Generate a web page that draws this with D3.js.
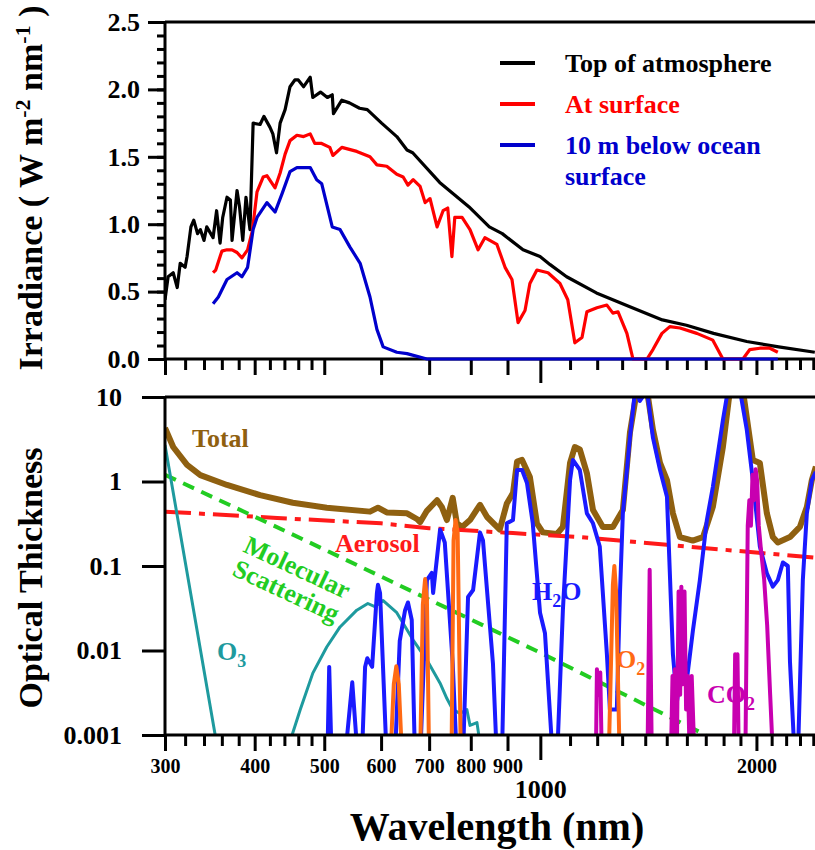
<!DOCTYPE html>
<html>
<head>
<meta charset="utf-8">
<script src="https://cdn.jsdelivr.net/npm/d3@7"></script>
<style>
  body { margin: 0; background: #fff; }
  svg text { font-family: "Liberation Serif", "Times New Roman", serif; font-weight: bold; }
</style>
</head>
<body>
<svg id="chart"></svg>
<script>
// ---- irradiance panel, [wavelength nm, W m-2 nm-1]
const topOfAtmosphere = [
  [300,0.44],[303,0.61],[308,0.64],[312,0.53],[315,0.71],[320,0.68],[322,0.76],[326,0.98],
  [329,1.03],[333,0.93],[336,0.96],[340,0.88],[343,0.98],[350,0.9],[354,1.1],[358,0.86],
  [361,1.05],[366,1.2],[370,1.18],[372,0.88],[378,1.25],[381,1.13],[385,0.88],[389,1.2],
  [394,0.96],[398,1.75],[407,1.74],[412,1.8],[420,1.72],[424,1.67],[429,1.53],[434,1.75],
  [441,1.85],[448,2.02],[455,2.07],[460,2.07],[468,2.02],[478,2.09],[482,1.94],[494,1.98],
  [505,1.94],[513,1.96],[515,1.82],[529,1.92],[542,1.9],[560,1.86],[574,1.85],[601,1.75],
  [631,1.65],[652,1.55],[664,1.53],[724,1.31],[795,1.13],[849,0.98],[885,0.93],[946,0.81],
  [999,0.76],[1032,0.7],[1088,0.61],[1197,0.49],[1330,0.39],[1479,0.29],[1598,0.25],
  [1743,0.19],[1939,0.13],[2148,0.09],[2412,0.05]
];
const atSurface = [
  [350,0.64],[353,0.66],[360,0.8],[366,0.81],[372,0.81],[378,0.79],[384,0.75],[391,0.81],
  [397,0.95],[403,1.24],[411,1.35],[416,1.36],[422,1.31],[427,1.27],[434,1.38],[441,1.52],
  [448,1.62],[458,1.66],[468,1.65],[478,1.67],[485,1.6],[495,1.6],[509,1.57],[514,1.51],
  [529,1.57],[555,1.54],[579,1.5],[592,1.44],[611,1.43],[631,1.37],[644,1.35],[654,1.29],
  [665,1.33],[680,1.28],[691,1.16],[702,1.19],[718,0.98],[732,1.1],[743,1.12],[753,0.76],
  [760,1.05],[778,1.05],[798,0.96],[819,0.81],[837,0.9],[870,0.85],[893,0.68],[913,0.59],
  [931,0.27],[952,0.36],[967,0.56],[989,0.66],[1025,0.64],[1065,0.56],[1092,0.44],
  [1117,0.12],[1143,0.16],[1161,0.35],[1199,0.38],[1238,0.4],[1262,0.34],[1283,0.35],
  [1320,0.19],[1346,0.0],[1408,0.0],[1435,0.07],[1477,0.19],[1515,0.24],[1565,0.23],
  [1652,0.19],[1739,0.14],[1796,0.0],[1915,0.0],[1958,0.07],[2022,0.08],[2088,0.08],[2142,0.05]
];
const belowOcean = [
  [350,0.41],[356,0.46],[366,0.59],[378,0.64],[384,0.61],[391,0.68],[398,0.96],[403,1.05],
  [416,1.16],[427,1.09],[437,1.23],[448,1.39],[458,1.42],[478,1.42],[488,1.33],[496,1.3],
  [513,0.98],[526,0.96],[543,0.83],[561,0.71],[579,0.46],[592,0.22],[604,0.09],[631,0.05],
  [652,0.04],[695,0.0],[2142,0.0]
];

// ---- optical thickness panel, [wavelength nm, tau]; 0.0005 = below the 0.001 floor
const total = [
  [300,4.3],[308,2.56],[322,1.57],[336,1.19],[366,0.91],[407,0.69],[452,0.56],[504,0.49],
  [579,0.44],[594,0.49],[611,0.43],[652,0.42],[673,0.36],[680,0.33],[695,0.45],[718,0.6],
  [729,0.5],[741,0.35],[755,0.64],[765,0.32],[778,0.29],[798,0.35],[824,0.53],[843,0.38],
  [878,0.27],[898,0.55],[916,0.73],[928,1.72],[943,1.8],[967,1.13],[989,0.32],[1008,0.25],
  [1055,0.24],[1075,0.29],[1100,1.66],[1117,2.56],[1135,2.4],[1161,1.26],[1184,0.46],
  [1222,0.29],[1262,0.29],[1303,0.46],[1333,3.8],[1363,12],[1408,12],[1435,4.1],[1468,1.66],
  [1501,1.04],[1530,0.42],[1565,0.22],[1631,0.2],[1685,0.22],[1739,0.5],[1796,2.56],
  [1837,12],[1915,12],[1977,1.8],[2022,1.66],[2068,0.42],[2108,0.22],[2142,0.19],[2227,0.22],
  [2299,0.29],[2351,0.5],[2389,1.04],[2420,1.5]
];
const water = [
  [505,0.0005],[508,0.0064],[512,0.0005],[534,0.0005],[547,0.0042],[557,0.0005],[564,0.0005],
  [570,0.0064],[574,0.0081],[583,0.0064],[592,0.048],[594,0.06],[598,0.048],[611,0.0005],
  [627,0.0005],[637,0.013],[648,0.03],[654,0.037],[662,0.023],[669,0.0005],[680,0.0005],
  [695,0.068],[706,0.083],[709,0.048],[725,0.27],[736,0.19],[755,0.007],[765,0.0005],
  [780,0.0005],[793,0.043],[806,0.052],[824,0.25],[832,0.2],[859,0.007],[870,0.0005],
  [884,0.0005],[898,0.32],[916,0.35],[928,1.37],[943,1.37],[958,0.96],[976,0.32],[999,0.028],
  [1015,0.016],[1041,0.0005],[1055,0.0005],[1075,0.03],[1100,1.04],[1110,1.8],[1135,1.37],
  [1161,0.42],[1184,0.32],[1210,0.17],[1238,0.009],[1250,0.002],[1278,0.002],[1291,0.048],
  [1303,0.42],[1333,3.3],[1355,12],[1376,9],[1408,12],[1435,3.3],[1468,1.37],[1501,0.66],
  [1530,0.009],[1550,0.0025],[1565,0.0045],[1600,0.0045],[1631,0.017],[1668,0.068],
  [1706,0.35],[1739,0.86],[1796,5.3],[1825,12],[1897,12],[1939,4.1],[1977,1.04],[2022,0.17],
  [2068,0.082],[2108,0.057],[2142,0.068],[2177,0.11],[2212,0.1],[2227,0.0075],[2262,0.0005],
  [2284,0.0005],[2321,0.068],[2351,0.42],[2389,1.04],[2420,1.3]
];
const oxygen = [
  [618,0.0005],[625,0.004],[630,0.0065],[635,0.004],[642,0.0005],
  [680,0.0005],[686,0.035],[691,0.07],[695,0.04],[700,0.0005],
  [752,0.0005],[757,0.2],[762,0.35],[767,0.25],[775,0.0005],
  [1245,0.0005],[1262,0.06],[1268,0.1],[1275,0.05],[1290,0.0005]
];
const carbonDioxide = [
  [1195,0.0005],[1199,0.006],[1205,0.003],[1212,0.0055],[1218,0.0005],
  [1410,0.0005],[1420,0.09],[1430,0.0005],
  [1520,0.0005],[1528,0.005],[1535,0.0005],[1540,0.006],[1550,0.0008],[1558,0.05],
  [1566,0.003],[1572,0.057],[1580,0.004],[1588,0.05],[1596,0.002],[1605,0.005],
  [1615,0.0005],[1625,0.005],[1640,0.0005],
  [1860,0.0005],[1868,0.009],[1875,0.002],[1882,0.009],[1890,0.0005],
  [1930,0.0005],[1945,0.3],[1955,0.6],[1965,0.3],[1975,1.2],[1985,0.6],[1995,1.4],
  [2005,1.0],[2015,0.3],[2030,0.15],[2050,0.07],[2070,0.02],[2090,0.003],[2110,0.0005]
];
const ozone = [
  [300,2.7],[354,0.0008],[440,0.0005],[451,0.001],[463,0.002],[482,0.0054],[504,0.011],
  [526,0.019],[555,0.03],[575,0.036],[588,0.033],[604,0.039],[631,0.028],[665,0.0133],
  [695,0.0077],[725,0.0041],[741,0.0027],[755,0.002],[773,0.0018],[790,0.002],[798,0.0013],
  [816,0.0014],[824,0.0008]
];
const aerosol = [[300,0.44],[430,0.37],[600,0.32],[700,0.28],[916,0.245],[1135,0.22],[2420,0.125]];
const molecular = [[300,1.2],[450,0.24],[600,0.075],[1000,0.0094],[1700,0.001]];

// ---- ticks and labels
const xMinorTicks = [320,340,360,380,420,440,460,480,1100,1200,1300,1400,1500,1600,1700,1800,1900,2100,2200,2300,2400];
const xMajorTicks = [300,400,500,600,700,800,900,2000];
const xLongTicks = [1000];
const yTopMajor = [0,0.5,1,1.5,2,2.5];
const yBotTicks = [0.001,0.01,0.1,1,10];
const yBotLabels = ['0.001','0.01','0.1','1','10'];

const W = 815, H = 850;
const svg = d3.select('#chart').attr('width', W).attr('height', H);

const x = d3.scaleLog().domain([300, 2500]).range([165, 826]);
const yTop = d3.scaleLinear().domain([0, 2.5]).range([359, 22]);
const yBot = d3.scaleLog().domain([0.001, 10]).range([735, 397]);

const defs = svg.append('defs');
defs.append('clipPath').attr('id', 'clipTop')
  .append('rect').attr('x', 165).attr('y', 22).attr('width', 650).attr('height', 341);
defs.append('clipPath').attr('id', 'clipBot')
  .append('rect').attr('x', 165).attr('y', 397).attr('width', 650).attr('height', 338);

// little helper for one set of ticks
function tickSet(axis, y, vals, size, fmt, fs, pad) {
  const g = svg.append('g')
    .attr('transform', `translate(0,${y})`)
    .call(axis.tickValues(vals).tickSize(size).tickPadding(pad || 3).tickFormat(fmt || ''));
  g.select('.domain').remove();
  g.selectAll('.tick line').attr('stroke', '#000').attr('stroke-width', 3);
  g.selectAll('text').attr('font-size', fs || 20).attr('font-family', null).attr('fill', '#000');
  return g;
}
function yTickSet(axis, vals, size, fmt, fs, pad) {
  const g = svg.append('g')
    .attr('transform', 'translate(165,0)')
    .call(axis.tickValues(vals).tickSize(size).tickPadding(pad || 3).tickFormat(fmt || ''));
  g.select('.domain').remove();
  g.selectAll('.tick line').attr('stroke', '#000').attr('stroke-width', 3);
  g.selectAll('text').attr('font-size', fs || 20).attr('font-family', null).attr('fill', '#000');
  return g;
}
function frame(x1, y1, x2, y2) {
  svg.append('line').attr('x1', x1).attr('y1', y1).attr('x2', x2).attr('y2', y2)
    .attr('stroke', '#000').attr('stroke-width', 3);
}

// ===== top panel =====
tickSet(d3.axisBottom(x), 359, xMinorTicks, 11);
tickSet(d3.axisBottom(x), 359, xMajorTicks, 16);
tickSet(d3.axisBottom(x), 359, xLongTicks, 24);
yTickSet(d3.axisLeft(yTop), d3.range(0, 2.51, 0.1), 8);
yTickSet(d3.axisLeft(yTop), yTopMajor, 17, d3.format('.1f'), 26, 8);
frame(165, 22, 815, 22);
frame(165, 22, 165, 359);
frame(165, 359, 815, 359);

const lineTop = d3.line().x(d => x(d[0])).y(d => yTop(d[1]));
const topG = svg.append('g').attr('clip-path', 'url(#clipTop)');
[[topOfAtmosphere, '#000000'], [atSurface, '#ff0000'], [belowOcean, '#0000cc']].forEach(([data, c]) => {
  topG.append('path').datum(data).attr('d', lineTop)
    .attr('fill', 'none').attr('stroke', c).attr('stroke-width', 3.2)
    .attr('stroke-linejoin', 'round');
});

// legend
const legend = [
  { label: 'Top of atmosphere', color: '#000000', y: 63 },
  { label: 'At surface', color: '#ff0000', y: 104 },
  { label: '10 m below ocean', color: '#0000cc', y: 145 }
];
legend.forEach(d => {
  svg.append('line').attr('x1', 500).attr('x2', 535).attr('y1', d.y).attr('y2', d.y)
    .attr('stroke', d.color).attr('stroke-width', 4);
  svg.append('text').attr('x', 565).attr('y', d.y + 9).attr('font-size', 26)
    .attr('fill', d.color).text(d.label);
});
svg.append('text').attr('x', 565).attr('y', 185).attr('font-size', 26)
  .attr('fill', '#0000cc').text('surface');

// y title
const t1 = svg.append('text').attr('transform', 'translate(42,188) rotate(-90)')
  .attr('text-anchor', 'middle').attr('font-size', 34);
t1.append('tspan').text('Irradiance ( W m');
t1.append('tspan').attr('dy', -12).attr('font-size', 22).text('-2');
t1.append('tspan').attr('dy', 12).text(' nm');
t1.append('tspan').attr('dy', -12).attr('font-size', 22).text('-1');
t1.append('tspan').attr('dy', 12).text(' )');

// ===== bottom panel =====
const lineBot = d3.line().x(d => x(d[0])).y(d => yBot(d[1]));
const botG = svg.append('g').attr('clip-path', 'url(#clipBot)');
const botSeries = [
  { data: aerosol, color: '#ff1a1a', w: 4, dash: '26,8,6,8' },
  { data: molecular, color: '#22cc22', w: 4, dash: '12,8' },
  { data: ozone, color: '#1e9a9e', w: 3 },
  { data: water, color: '#1a1aff', w: 4 },
  { data: oxygen, color: '#ff6a14', w: 4 },
  { data: carbonDioxide, color: '#c800b0', w: 4 },
  { data: total, color: '#8f6010', w: 6 }
];
botSeries.forEach(s => {
  botG.append('path').datum(s.data).attr('d', lineBot)
    .attr('fill', 'none').attr('stroke', s.color).attr('stroke-width', s.w)
    .attr('stroke-linejoin', 'round')
    .attr('stroke-dasharray', s.dash || null);
});
// keep the total line under water vapour like the figure
botG.selectAll('path').filter((d, i) => i === 6).lower();

tickSet(d3.axisBottom(x), 735, xMinorTicks, 11);
tickSet(d3.axisBottom(x), 735, xMajorTicks, 16, d3.format('d'), 20, 8);
tickSet(d3.axisBottom(x), 735, xLongTicks, 25, d3.format('d'), 26, 20);
yTickSet(d3.axisLeft(yBot), yBotTicks, 23, (d, i) => yBotLabels[i], 26, 20);
frame(165, 397, 815, 397);
frame(165, 397, 165, 735);
frame(165, 735, 815, 735);

// series labels
function label(txt, sub, px, py, color) {
  const t = svg.append('text').attr('x', px).attr('y', py).attr('font-size', 26).attr('fill', color);
  t.append('tspan').text(txt);
  if (sub) {
    t.append('tspan').attr('dy', 7).attr('font-size', 18).text(sub[0]);
    if (sub[1]) t.append('tspan').attr('dy', -7).text(sub[1]);
  }
}
label('Total', null, 192, 447, '#8f6010');
label('Aerosol', null, 335, 552, '#ff1a1a');
label('H', ['2', 'O'], 532, 600, '#1a1aff');
label('O', ['3'], 217, 660, '#1e9a9e');
label('O', ['2'], 616, 668, '#ff6a14');
label('CO', ['2'], 707, 703, '#c800b0');

const mol = svg.append('g').attr('transform', 'translate(297,568) rotate(25)');
mol.append('text').attr('text-anchor', 'middle').attr('y', 8).attr('font-size', 26)
  .attr('fill', '#22cc22').text('Molecular');
mol.append('text').attr('text-anchor', 'middle').attr('y', 34).attr('font-size', 26)
  .attr('fill', '#22cc22').text('Scattering');

svg.append('text').attr('transform', 'translate(42,578) rotate(-90)')
  .attr('text-anchor', 'middle').attr('font-size', 34).text('Optical Thickness');

svg.append('text').attr('x', 497).attr('y', 840).attr('text-anchor', 'middle')
  .attr('font-size', 40).text('Wavelength (nm)');
</script>
</body>
</html>
